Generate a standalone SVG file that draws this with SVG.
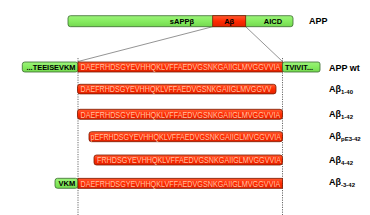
<svg xmlns="http://www.w3.org/2000/svg" width="370" height="215" viewBox="0 0 370 215">
<defs>
<linearGradient id="gr" x1="0" y1="0" x2="0" y2="1">
<stop offset="0" stop-color="#ff5a30"/><stop offset="0.5" stop-color="#ff2a00"/><stop offset="1" stop-color="#e02200"/>
</linearGradient>
<linearGradient id="gg" x1="0" y1="0" x2="0" y2="1">
<stop offset="0" stop-color="#9cf27a"/><stop offset="0.5" stop-color="#86ec60"/><stop offset="1" stop-color="#74d850"/>
</linearGradient>
</defs>
<style>
.red{fill:url(#gr);stroke:#7a1a00;stroke-width:0.8}
.grn{fill:url(#gg);stroke:#3a6a30;stroke-width:0.8}
.seq{font-family:"Liberation Sans",Arial,sans-serif;font-size:8.5px;fill:#ffc0a0}
.blk{font-family:"Liberation Sans",Arial,sans-serif;font-size:7.5px;font-weight:bold;fill:#000}
.lab{font-family:"Liberation Sans",Arial,sans-serif;font-size:9px;font-weight:bold;fill:#000}
.sub{font-size:6px}
.dash{stroke:#444;stroke-width:0.8;stroke-dasharray:1.2,1.2;fill:none}
.con{stroke:#666;stroke-width:0.7;fill:none}
</style>
<g id="connectors">
<line class="con" x1="212.7" y1="26.7" x2="78" y2="61.5"/>
<line class="con" x1="245.7" y1="26.7" x2="282.5" y2="61.5"/>
<line class="dash" x1="78" y1="58" x2="78" y2="215"/>
<line class="dash" x1="282.5" y1="58" x2="282.5" y2="215"/>
</g>
<g id="app">
<rect class="grn" x="68" y="15.7" width="225" height="11" rx="2.5"/>
<rect class="red" x="212.7" y="15.7" width="33" height="11"/>
<text class="blk" x="194" y="24" text-anchor="end">sAPPβ</text>
<text class="blk" x="229.2" y="24" text-anchor="middle">Aβ</text>
<text class="blk" x="273" y="24" text-anchor="middle">AICD</text>
<text class="lab" x="309" y="24" font-size="8">APP</text>
</g>
<g id="app-wt">
<rect class="grn" x="22.3" y="62" width="55.7" height="10" rx="2.5"/>
<rect class="red" x="78" y="62" width="204.5" height="10"/>
<rect class="grn" x="282.5" y="62" width="37.5" height="10" rx="2"/>
<text class="blk" x="26.5" y="70" textLength="49" lengthAdjust="spacingAndGlyphs">...TEEISEVKM</text>
<text class="seq" transform="translate(80.5,70.2) scale(0.85,1)" textLength="235" lengthAdjust="spacingAndGlyphs">DAEFRHDSGYEVHHQKLVFFAEDVGSNKGAIIGLMVGGVVIA</text>
<text class="blk" x="285" y="70" textLength="28" lengthAdjust="spacingAndGlyphs">TVIVIT...</text>
<text class="lab" x="329" y="70.5">APP wt</text>
</g>
<g id="ab1-40">
<rect class="red" x="77.5" y="84.3" width="198.5" height="9.6" rx="2.5"/>
<text class="seq" transform="translate(80.5,92.2) scale(0.85,1)" textLength="224.7" lengthAdjust="spacingAndGlyphs">DAEFRHDSGYEVHHQKLVFFAEDVGSNKGAIIGLMVGGVV</text>
<text class="lab" x="329" y="92">Aβ<tspan class="sub" dy="2">1-40</tspan></text>
</g>
<g id="ab1-42">
<rect class="red" x="77.5" y="109.3" width="205" height="10" rx="2.5"/>
<text class="seq" transform="translate(80.5,117.5) scale(0.85,1)" textLength="235" lengthAdjust="spacingAndGlyphs">DAEFRHDSGYEVHHQKLVFFAEDVGSNKGAIIGLMVGGVVIA</text>
<text class="lab" x="329" y="117">Aβ<tspan class="sub" dy="2">1-42</tspan></text>
</g>
<g id="abpE3-42">
<rect class="red" x="89" y="131.7" width="193.5" height="10" rx="2.5"/>
<text class="seq" transform="translate(90.5,139.9) scale(0.85,1)" textLength="224" lengthAdjust="spacingAndGlyphs">pEFRHDSGYEVHHQKLVFFAEDVGSNKGAIIGLMVGGVVIA</text>
<text class="lab" x="329" y="139">Aβ<tspan class="sub" dy="2">pE3-42</tspan></text>
</g>
<g id="ab4-42">
<rect class="red" x="94" y="155" width="188.5" height="10" rx="2.5"/>
<text class="seq" transform="translate(97,163.2) scale(0.85,1)" textLength="216.5" lengthAdjust="spacingAndGlyphs">FRHDSGYEVHHQKLVFFAEDVGSNKGAIIGLMVGGVVIA</text>
<text class="lab" x="329" y="163">Aβ<tspan class="sub" dy="2">4-42</tspan></text>
</g>
<g id="ab-3-42">
<rect class="grn" x="55" y="178.3" width="23" height="10" rx="2.5"/>
<rect class="red" x="78" y="178.3" width="204.5" height="10"/>
<text class="blk" x="58.5" y="186.2">VKM</text>
<text class="seq" transform="translate(80.5,186.5) scale(0.85,1)" textLength="235" lengthAdjust="spacingAndGlyphs">DAEFRHDSGYEVHHQKLVFFAEDVGSNKGAIIGLMVGGVVIA</text>
<text class="lab" x="329" y="185">Aβ<tspan class="sub" dy="2">-3-42</tspan></text>
</g>
</svg>
